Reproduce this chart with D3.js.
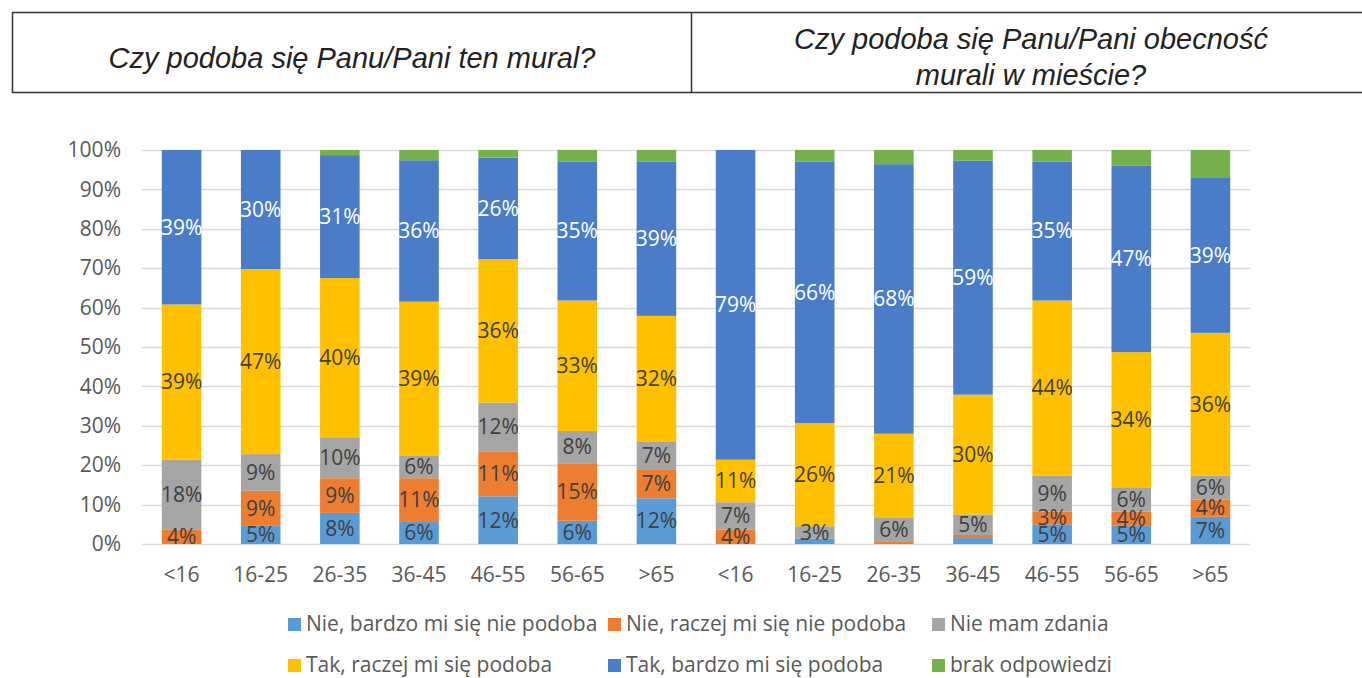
<!DOCTYPE html>
<html>
<head>
<meta charset="utf-8">
<script src="https://cdn.jsdelivr.net/npm/d3@7"></script>
<style>
  body { margin: 0; background: #fff; }
  svg { display: block; }
</style>
</head>
<body>
<script>
let width = 1362;
let height = 678;

// age groups, repeated for both questions
let ageGroups = ["<16", "16-25", "26-35", "36-45", "46-55", "56-65", ">65"];
let categories = ageGroups.concat(ageGroups);

let seriesNames = [
  "Nie, bardzo mi się nie podoba",
  "Nie, raczej mi się nie podoba",
  "Nie mam zdania",
  "Tak, raczej mi się podoba",
  "Tak, bardzo mi się podoba",
  "brak odpowiedzi"
];
let seriesColors = ["#5b9bd5", "#ed7d31", "#a5a5a5", "#ffc000", "#4a7cc8", "#74b04b"];

// shares in %, left 7 = "ten mural", right 7 = "obecność murali"
let nieBardzo = [0, 4.6, 7.9, 5.6, 12.1, 5.9, 11.6, 0, 1.4, 0, 1.5, 5.0, 4.6, 6.9];
let nieRaczej = [3.6, 8.9, 8.8, 11.1, 11.4, 14.6, 7.2, 3.6, 0, 0.7, 0.8, 3.2, 3.6, 4.4];
let nieMam = [17.8, 9.3, 10.4, 5.8, 12.4, 8.2, 7.1, 7.0, 3.1, 5.9, 5.2, 9.2, 6.2, 6.0];
let takRaczej = [39.4, 47.0, 40.4, 39.0, 36.4, 33.1, 32.0, 10.8, 26.2, 21.4, 30.4, 44.4, 34.3, 36.3];
let takBardzo = [39.2, 30.2, 31.2, 35.9, 25.8, 35.3, 39.2, 78.6, 66.4, 68.4, 59.4, 35.3, 47.4, 39.3];
let brak = [0, 0, 1.3, 2.6, 1.9, 2.9, 2.9, 0, 2.9, 3.6, 2.7, 2.9, 3.9, 7.1];

let yTicks = [0, 10, 20, 30, 40, 50, 60, 70, 80, 90, 100];

let allSeries = [nieBardzo, nieRaczej, nieMam, takRaczej, takBardzo, brak];
let keys = d3.range(seriesNames.length);
let table = categories.map(function(c, i) {
  let row = { idx: i };
  keys.forEach(function(k) { row[k] = allSeries[k][i]; });
  return row;
});

let svg = d3.select("body")
            .append("svg")
            .attr("width", width)
            .attr("height", height);

// header box with the two questions
let header = svg.append("g").attr("fill", "none").attr("stroke", "#333").attr("stroke-width", 1.5);
header.append("line").attr("x1", 12).attr("x2", width).attr("y1", 12.5).attr("y2", 12.5);
header.append("line").attr("x1", 12).attr("x2", width).attr("y1", 92.5).attr("y2", 92.5);
header.append("line").attr("x1", 12.5).attr("x2", 12.5).attr("y1", 12).attr("y2", 93);
header.append("line").attr("x1", 691.5).attr("x2", 691.5).attr("y1", 12).attr("y2", 93);

let titleFont = "'Liberation Sans', Arial, sans-serif";
svg.append("text")
   .attr("x", 352).attr("y", 68)
   .attr("text-anchor", "middle")
   .attr("font-family", titleFont).attr("font-style", "italic")
   .attr("font-size", 29).attr("fill", "#222")
   .text("Czy podoba się Panu/Pani ten mural?");
let t2 = svg.append("text")
   .attr("text-anchor", "middle")
   .attr("font-family", titleFont).attr("font-style", "italic")
   .attr("font-size", 29).attr("fill", "#222");
t2.append("tspan").attr("x", 1031).attr("y", 49).text("Czy podoba się Panu/Pani obecność");
t2.append("tspan").attr("x", 1031).attr("y", 85).text("murali w mieście?");

// scales
let x = d3.scaleBand()
          .domain(d3.range(categories.length))
          .range([142, 1250])
          .paddingInner(0.5)
          .paddingOuter(0.25);
let y = d3.scaleLinear().domain([0, 100]).range([544, 150]);

let font = "'Open Sans', 'Noto Sans', sans-serif";
let fs = 21;

// gridlines
svg.append("g")
   .selectAll("line")
   .data(yTicks)
   .enter()
   .append("line")
   .attr("x1", 142).attr("x2", 1250)
   .attr("y1", function(d) { return Math.round(y(d)) + 0.5; })
   .attr("y2", function(d) { return Math.round(y(d)) + 0.5; })
   .attr("stroke", "#d9d9d9")
   .attr("stroke-width", 1.5);

// y axis labels
let yAxis = svg.append("g")
   .attr("transform", "translate(121,0)")
   .call(d3.axisLeft(y).tickValues(yTicks).tickSize(0).tickPadding(0)
           .tickFormat(function(d) { return d + "%"; }));
yAxis.select(".domain").remove();
yAxis.selectAll("text").attr("font-family", font).attr("font-size", fs).attr("fill", "#595959");

// x axis labels
let xAxis = svg.append("g")
   .attr("transform", "translate(0,567)")
   .call(d3.axisBottom(x).tickSize(0).tickPadding(0)
           .tickFormat(function(i) { return categories[i]; }));
xAxis.select(".domain").remove();
xAxis.selectAll("text").attr("font-family", font).attr("font-size", fs).attr("fill", "#595959");

// stacked bars
let stacked = d3.stack().keys(keys)(table);

let layers = svg.append("g")
   .selectAll("g")
   .data(stacked)
   .enter()
   .append("g")
   .attr("fill", function(d) { return seriesColors[d.key]; });

layers.selectAll("rect")
   .data(function(d) { return d; })
   .enter()
   .append("rect")
   .attr("x", function(d) { return x(d.data.idx); })
   .attr("width", x.bandwidth())
   .attr("y", function(d) { return y(d[1]); })
   .attr("height", function(d) { return y(d[0]) - y(d[1]); });

// value labels
stacked.forEach(function(layer) {
  if (layer.key === 5) return; // no labels on "brak odpowiedzi"
  svg.append("g")
     .selectAll("text")
     .data(layer.filter(function(d) { return d[1] - d[0] >= 2.5; }))
     .enter()
     .append("text")
     .attr("x", function(d) { return x(d.data.idx) + x.bandwidth() / 2; })
     .attr("y", function(d) { return y((d[0] + d[1]) / 2); })
     .attr("dy", "0.35em")
     .attr("text-anchor", "middle")
     .attr("font-family", font)
     .attr("font-size", fs)
     .attr("fill", layer.key === 4 ? "#ffffff" : "#404040")
     .text(function(d) { return Math.round(d[1] - d[0]) + "%"; });
});

// legend, 3 columns x 2 rows
let legendX = [288, 608, 932];
let legendY = [624, 665];
let legend = svg.append("g")
   .selectAll("g")
   .data(keys)
   .enter()
   .append("g")
   .attr("transform", function(d, i) {
     return "translate(" + legendX[i % 3] + "," + legendY[Math.floor(i / 3)] + ")";
   });

legend.append("rect")
   .attr("x", 0).attr("y", -6)
   .attr("width", 13).attr("height", 13)
   .attr("fill", function(d) { return seriesColors[d]; });

legend.append("text")
   .attr("x", 18).attr("y", 0)
   .attr("dy", "0.35em")
   .attr("font-family", font)
   .attr("font-size", fs)
   .attr("fill", "#595959")
   .text(function(d) { return seriesNames[d]; });
</script>
</body>
</html>
